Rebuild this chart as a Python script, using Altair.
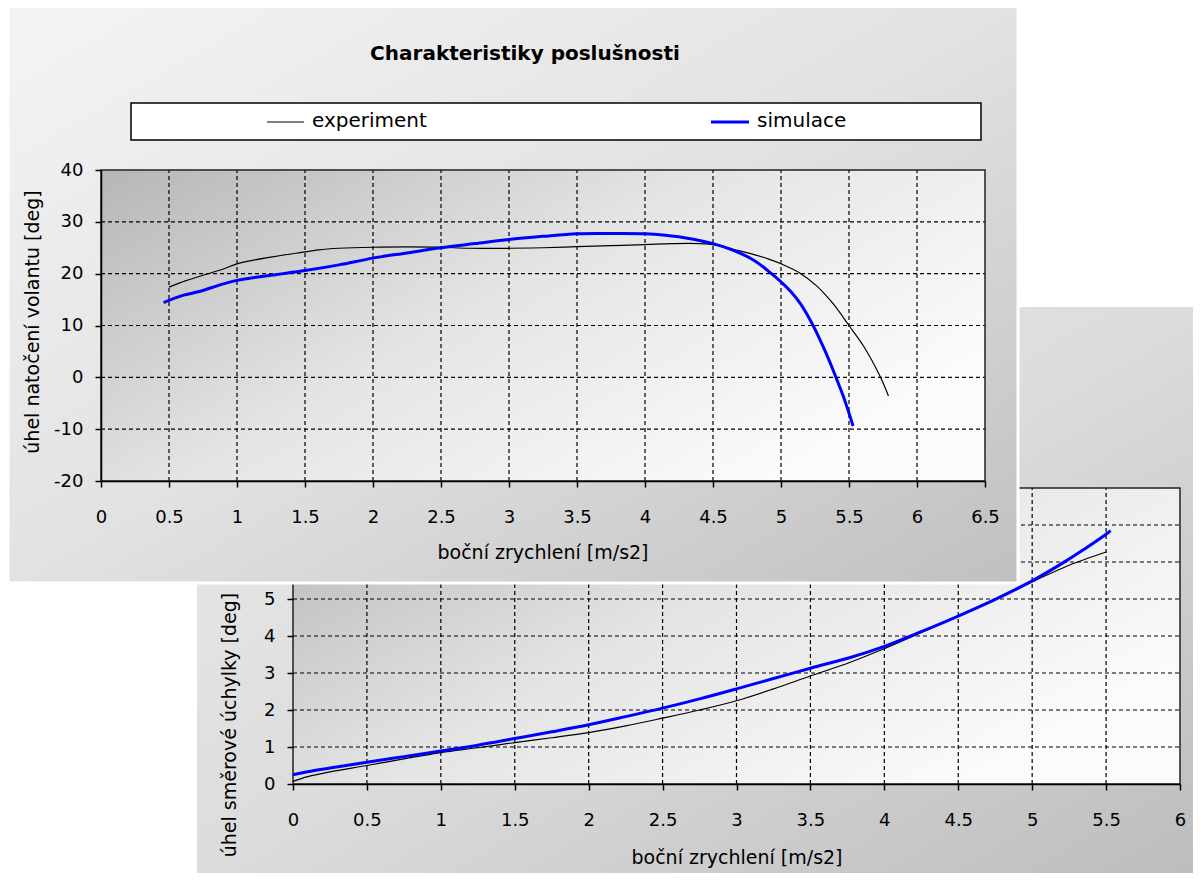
import altair as alt
import pandas as pd

FONT = "DejaVu Sans"

# ---------------- data ----------------
# upper chart: steering wheel angle vs lateral acceleration
steer_exp_x = [0.5, 0.62, 0.75, 0.9, 1.0, 1.25, 1.5, 1.6, 1.75, 2.0, 2.25, 2.5, 2.7, 3.0, 3.25, 3.5,
               3.75, 4.0, 4.2, 4.4, 4.55, 4.65, 4.77, 4.9, 5.0, 5.14, 5.26, 5.38, 5.5, 5.61, 5.73, 5.79]
steer_exp_y = [17.4, 18.6, 19.7, 20.9, 21.9, 23.2, 24.2, 24.6, 24.9, 25.1, 25.15, 25.1, 24.9, 24.9, 25.0, 25.2,
               25.4, 25.6, 25.8, 25.8, 25.4, 24.7, 23.9, 22.9, 21.9, 20.1, 17.7, 14.3, 10.0, 5.9, 0.1, -3.6]
steer_sim_x = [0.46, 0.6, 0.73, 0.87, 1.0, 1.25, 1.5, 1.75, 2.0, 2.25, 2.5, 2.75, 3.0, 3.25, 3.5, 3.75,
               4.0, 4.15, 4.3, 4.5, 4.65, 4.8, 4.93, 5.0, 5.07, 5.14, 5.23, 5.3, 5.36, 5.41, 5.46, 5.5, 5.53]
steer_sim_y = [14.4, 15.8, 16.6, 17.8, 18.7, 19.7, 20.6, 21.7, 23.0, 24.0, 25.0, 25.8, 26.6, 27.2, 27.7, 27.75,
               27.7, 27.4, 26.9, 25.8, 24.5, 22.6, 20.0, 18.4, 16.6, 14.3, 10.3, 6.5, 2.9, -0.4, -3.8, -6.9, -9.4]

# lower chart: yaw deviation angle vs lateral acceleration
yaw_exp_x = [0, 0.1, 0.25, 0.5, 0.75, 1.0, 1.25, 1.5, 1.75, 2.0, 2.25, 2.5, 2.75, 3.0, 3.25, 3.5,
             3.77, 4.0, 4.22, 4.5, 4.75, 5.0, 5.23, 5.5]
yaw_exp_y = [0.07, 0.2, 0.33, 0.5, 0.68, 0.85, 0.98, 1.12, 1.25, 1.39, 1.57, 1.78, 2.0, 2.25, 2.57, 2.92,
             3.29, 3.66, 4.04, 4.54, 5.0, 5.46, 5.88, 6.27]
yaw_sim_x = [0, 0.1, 0.25, 0.5, 0.75, 1.0, 1.25, 1.5, 1.75, 2.0, 2.25, 2.5, 2.75, 3.0, 3.25, 3.5,
             3.77, 4.0, 4.22, 4.5, 4.74, 5.0, 5.23, 5.35, 5.5, 5.53]
yaw_sim_y = [0.25, 0.33, 0.43, 0.59, 0.74, 0.89, 1.05, 1.23, 1.41, 1.6, 1.82, 2.05, 2.3, 2.57, 2.85, 3.13,
             3.42, 3.72, 4.07, 4.54, 4.97, 5.49, 6.03, 6.34, 6.75, 6.85]

# axes
top_x_domain = [0, 6.5]
top_y_domain = [-20, 40]
top_x_ticks = [0, 0.5, 1, 1.5, 2, 2.5, 3, 3.5, 4, 4.5, 5, 5.5, 6, 6.5]
top_y_ticks = [-20, -10, 0, 10, 20, 30, 40]
bot_x_domain = [0, 6]
bot_y_domain = [0, 8]
bot_x_ticks = [0, 0.5, 1, 1.5, 2, 2.5, 3, 3.5, 4, 4.5, 5, 5.5, 6]
bot_y_ticks = [0, 1, 2, 3, 4, 5, 6, 7, 8]
bot_y_ticks_shown = [0, 1, 2, 3, 4, 5]

title_text = "Charakteristiky poslušnosti"
series_names = ["experiment", "simulace"]
top_y_title = "úhel natočení volantu [deg]"
bot_y_title = "úhel směrové úchylky [deg]"
x_title = "boční zrychlení [m/s2]"

# ---------------- layout (pixels inside the 1185 x 865 canvas) ----------------
W, H = 1185, 865
TOP_PLOT = dict(x0=93, x1=977, y0=162, y1=473)
BOT_PLOT = dict(x0=285, x1=1172, y0=480, y1=776)

dummy = pd.DataFrame({"k": [0]})


def make_axis(orient, values, offset, pad, domain=True):
    return alt.Axis(orient=orient, values=values, offset=offset, grid=False, title=None,
                    tickSize=6, tickColor="black", tickWidth=1.5, domain=domain,
                    domainColor="black", domainWidth=1.5,
                    labelFont=FONT, labelFontSize=18, labelColor="black",
                    labelPadding=pad, labelFlush=False, labelOverlap=False,
                    labelExpr="toString(datum.value)", zindex=1)


def panel(x_dom, y_dom, x_ticks, y_ticks, y_ticks_shown, plot, exp_x, exp_y, sim_x, sim_y,
          y_domain_line=True):
    sx = alt.Scale(domain=x_dom, range=[plot["x0"], plot["x1"]], nice=False, zero=False)
    sy = alt.Scale(domain=y_dom, range=[plot["y1"], plot["y0"]], nice=False, zero=False)
    ax = make_axis("bottom", x_ticks, plot["y1"] - H, 21)
    ay = make_axis("left", y_ticks_shown, -plot["x0"], 12, domain=y_domain_line)

    frame = pd.DataFrame({"xa": [x_dom[0]], "xb": [x_dom[1]], "ya": [y_dom[0]], "yb": [y_dom[1]]})
    grad = alt.LinearGradient(gradient="linear", x1=0, y1=0, x2=1, y2=0.6,
                              stops=[alt.GradientStop(color="#b6b6b6", offset=0),
                                     alt.GradientStop(color="#e4e4e4", offset=0.5),
                                     alt.GradientStop(color="#fbfbfb", offset=1)])
    bg = alt.Chart(frame).mark_rect(fill=grad, stroke=None).encode(
        x=alt.X("xa:Q", scale=sx, axis=ax), x2="xb:Q",
        y=alt.Y("ya:Q", scale=sy, axis=ay), y2="yb:Q")

    vx = pd.DataFrame({"v": [t for t in x_ticks if x_dom[0] < t < x_dom[1]]})
    vx["lo"] = y_dom[0]
    vx["hi"] = y_dom[1]
    vgrid = alt.Chart(vx).mark_rule(color="black", strokeWidth=1.2, strokeDash=[4, 3]).encode(
        x=alt.X("v:Q", scale=sx, axis=ax), y=alt.Y("lo:Q", scale=sy, axis=ay), y2="hi:Q")
    hy = pd.DataFrame({"v": [t for t in y_ticks if y_dom[0] < t < y_dom[1]]})
    hy["lo"] = x_dom[0]
    hy["hi"] = x_dom[1]
    hgrid = alt.Chart(hy).mark_rule(color="black", strokeWidth=1.2, strokeDash=[4, 3]).encode(
        y=alt.Y("v:Q", scale=sy, axis=ay), x=alt.X("lo:Q", scale=sx, axis=ax), x2="hi:Q")

    border = alt.Chart(frame).mark_rect(fill=None, stroke="#222222", strokeWidth=1.5).encode(
        x=alt.X("xa:Q", scale=sx, axis=ax), x2="xb:Q",
        y=alt.Y("ya:Q", scale=sy, axis=ay), y2="yb:Q")

    dexp = pd.DataFrame({"x": exp_x, "y": exp_y})
    dsim = pd.DataFrame({"x": sim_x, "y": sim_y})
    lexp = alt.Chart(dexp).mark_line(color="black", strokeWidth=1.2, interpolate="catmull-rom").encode(
        x=alt.X("x:Q", scale=sx, axis=ax), y=alt.Y("y:Q", scale=sy, axis=ay))
    lsim = alt.Chart(dsim).mark_line(color="#0000ff", strokeWidth=3, interpolate="catmull-rom").encode(
        x=alt.X("x:Q", scale=sx, axis=ax), y=alt.Y("y:Q", scale=sy, axis=ay))
    return alt.layer(bg, vgrid, hgrid, border, lexp, lsim)


def box(x0, y0, x1, y1, stops, stroke=None, sw=0):
    grad = alt.LinearGradient(gradient="linear", x1=0, y1=0, x2=1, y2=1,
                              stops=[alt.GradientStop(color=c, offset=o) for o, c in stops])
    kw = dict(fill=grad)
    if stroke:
        kw.update(stroke=stroke, strokeWidth=sw)
    return alt.Chart(dummy).mark_rect(**kw).encode(
        x=alt.value(x0), x2=alt.value(x1), y=alt.value(y0), y2=alt.value(y1))


def label(text, x, y, size=19, angle=0, weight="normal", align="center"):
    kw = dict(text=text, font=FONT, fontSize=size, fontWeight=weight, align=align,
              baseline="middle", color="black")
    if angle:
        kw["angle"] = angle
    return alt.Chart(dummy).mark_text(**kw).encode(x=alt.value(x), y=alt.value(y))


# lower chart (drawn first, partly hidden)
bot_box = box(189, 299, W, H, [(0, "#ececec"), (0.5, "#dcdcdc"), (1, "#bdbdbd")])
bot_panel = panel(bot_x_domain, bot_y_domain, bot_x_ticks, bot_y_ticks, bot_y_ticks_shown, BOT_PLOT,
                  yaw_exp_x, yaw_exp_y, yaw_sim_x, yaw_sim_y, y_domain_line=False)
bot_ytitle = label(bot_y_title, 222, 717, angle=270)
bot_xtitle = label(x_title, 729, 850)

# upper chart
top_box = box(0, -3, 1010, 575, [(0, "#f4f4f4"), (0.5, "#e2e2e2"), (1, "#c0c0c0")], stroke="white", sw=3)
top_panel = panel(top_x_domain, top_y_domain, top_x_ticks, top_y_ticks, top_y_ticks, TOP_PLOT,
                  steer_exp_x, steer_exp_y, steer_sim_x, steer_sim_y)
top_title = label(title_text, 517, 46, size=20, weight="bold")
top_ytitle = label(top_y_title, 25, 314, angle=270)
top_xtitle = label(x_title, 535, 545)

# legend
leg_box = alt.Chart(dummy).mark_rect(fill="white", stroke="black", strokeWidth=1.5).encode(
    x=alt.value(123), x2=alt.value(973), y=alt.value(95), y2=alt.value(132))
leg_exp = alt.Chart(dummy).mark_rule(color="black", strokeWidth=1.2).encode(
    x=alt.value(259), x2=alt.value(296), y=alt.value(114))
leg_sim = alt.Chart(dummy).mark_rule(color="#0000ff", strokeWidth=3).encode(
    x=alt.value(703), x2=alt.value(741), y=alt.value(114))
leg_exp_t = label(series_names[0], 304, 113, size=20, align="left")
leg_sim_t = label(series_names[1], 749, 113, size=20, align="left")

chart = alt.layer(
    bot_box, bot_panel, bot_ytitle, bot_xtitle,
    top_box, top_panel, top_title, top_ytitle, top_xtitle,
    leg_box, leg_exp, leg_sim, leg_exp_t, leg_sim_t,
).resolve_scale(x="independent", y="independent").properties(
    width=W, height=H, padding=0, background="white",
    autosize=alt.AutoSizeParams(type="none"),
).configure_view(strokeWidth=0)

chart.save("out.html", embed_options={"renderer": "svg", "actions": False})
